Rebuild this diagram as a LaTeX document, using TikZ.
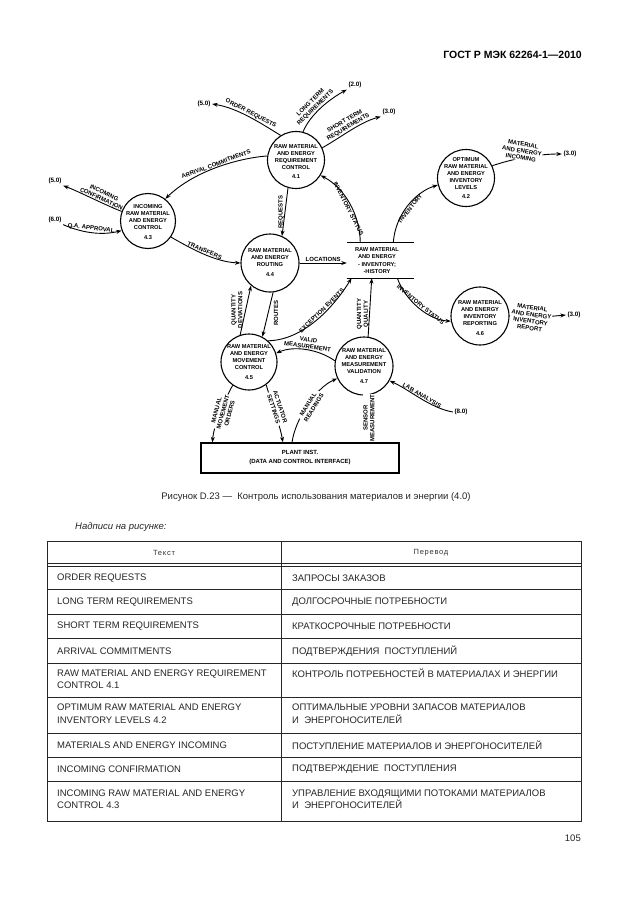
\documentclass[tikz,border=0pt]{standalone}
\usepackage{fontspec}
\setmainfont{Liberation Sans}
\usetikzlibrary{arrows.meta,calc}
\begin{document}
\begin{tikzpicture}[x=1pt,y=-1pt,
  proc/.style={circle,draw,line width=1.1pt,inner sep=0pt,minimum size=#1},
  proc/.default=57pt,
  ptext/.style={align=center,inner sep=0pt,font=\fontsize{5.7}{7}\selectfont\bfseries},
  flow/.style={line width=0.9pt,-{Stealth[length=5.5pt,width=4pt]}},
  lbl/.style={font=\fontsize{6}{6.8}\selectfont\bfseries,align=center,inner sep=0.8pt},
  ext/.style={font=\fontsize{6.3}{7}\selectfont\bfseries,inner sep=1.5pt},
  ttxt/.style={font=\fontsize{9.5}{12.5}\selectfont,anchor=west,align=left,inner sep=0pt,text=black!85},
  tline/.style={line width=0.6pt,black!85}]
\fill[white] (0,0) rectangle (630,913);
\useasboundingbox (0,0) rectangle (630,913);

% header
\node[anchor=east,font=\fontsize{10.5}{12}\selectfont\bfseries,inner sep=0pt] (hdr) at (582,55) {ГОСТ Р МЭК 62264-1—2010};

% processes
\node[proc=57pt] (n41) at (296,160) {};
\node[ptext] (t41) at (296,161.5) {RAW MATERIAL\\AND ENERGY\\REQUIREMENT\\CONTROL\\[2.5pt]4.1};
\node[proc=55pt] (n43) at (148,221) {};
\node[ptext] (t43) at (148,222) {INCOMING\\RAW MATERIAL\\AND ENERGY\\CONTROL\\[2.5pt]4.3};
\node[proc=58pt] (n44) at (270,263) {};
\node[ptext] (t44) at (270,263) {RAW MATERIAL\\AND ENERGY\\ROUTING\\[3pt]4.4};
\node[proc=57pt] (n42) at (466,178) {};
\node[ptext] (t42) at (466,178.5) {OPTIMUM\\RAW MATERIAL\\AND ENERGY\\INVENTORY\\LEVELS\\[2pt]4.2};
\node[proc=58pt] (n46) at (480,316) {};
\node[ptext] (t46) at (480,318) {RAW MATERIAL\\AND ENERGY\\INVENTORY\\REPORTING\\[3pt]4.6};
\node[proc=56pt] (n45) at (249,362) {};
\node[ptext] (t45) at (249,362) {RAW MATERIAL\\AND ENERGY\\MOVEMENT\\CONTROL\\[3pt]4.5};
\node[proc=58pt] (n47) at (364,366) {};
\node[ptext] (t47) at (364,366) {RAW MATERIAL\\AND ENERGY\\MEASUREMENT\\VALIDATION\\[3pt]4.7};

% data store
\node[minimum width=67pt,minimum height=35pt,inner sep=0pt] (st) at (380.5,260.5) {};
\draw[line width=1.1pt] (st.north west) -- (st.north east) (st.south west) -- (st.south east);
\node[ptext,font=\fontsize{5.7}{7.3}\selectfont\bfseries] (tst) at (377,260.5) {RAW MATERIAL\\AND ENERGY\\- INVENTORY;\\-HISTORY};

% plant interface
\node[draw,line width=1.2pt,minimum width=198pt,minimum height=30pt,inner sep=0pt,align=center,font=\fontsize{6}{9}\selectfont\bfseries] (pl) at (300,458) {PLANT INST.\\(DATA AND CONTROL INTERFACE)};

% external references
\node[ext] (r50a) at (204,104) {(5.0)};
\node[ext] (r20) at (355,85) {(2.0)};
\node[ext] (r30a) at (389,112) {(3.0)};
\node[ext] (r50b) at (55,181) {(5.0)};
\node[ext] (r60) at (55,220) {(6.0)};
\node[ext] (r30b) at (570,154) {(3.0)};
\node[ext] (r30c) at (574,315) {(3.0)};
\node[ext] (r80) at (461,412) {(8.0)};

% flows
\draw[flow] (n41.122) .. controls (262,124) and (238,108) .. (r50a.east)
  node[lbl,sloped,above,pos=0.5] (l1) {ORDER REQUESTS};
\draw[flow] (n41.76) .. controls (310,115) and (328,100) .. (r20.south west)
  node[lbl,sloped,above,pos=0.45] (l2) {LONG TERM\\REQUIREMENTS};
\draw[flow] (n41.25) .. controls (340,138) and (360,122) .. (r30a.south west)
  node[lbl,sloped,above,pos=0.5] (l3) {SHORT TERM\\REQUIREMENTS};
\draw[flow] (n41.172) .. controls (240,158) and (195,170) .. (n43.52)
  node[lbl,sloped,above,pos=0.5] (l4) {ARRIVAL COMMITMENTS};
\draw[flow] (n43.160) .. controls (105,205) and (80,192) .. (r50b.south east)
  node[lbl,sloped,above,pos=0.38] (l5) {INCOMING\\CONFIRMATION};
\draw[flow] (r60.south east) .. controls (80,232) and (100,236) .. (n43.200)
  node[lbl,sloped,above,pos=0.5] (l6) {Q.A. APPROVAL};
\draw[flow] (n43.-35) .. controls (190,248) and (215,262) .. (n44.west)
  node[lbl,sloped,above,pos=0.5] (l7) {TRANSFERS};
\draw[flow] (n41.254) -- (n44.66);
\node[lbl,rotate=90] (l8) at (281,212) {REQUESTS};
\draw[flow] (n44.east) -- (n44.east -| st.west)
  node[lbl,above,midway] (l9) {LOCATIONS};
\draw[flow] ($(st.north west)!0.2!(st.north east)$) .. controls (360,215) and (345,188) .. (n41.-32)
  node[lbl,sloped,below,pos=0.45] (l10) {INVENTORY STATUS};
\draw[flow] ($(st.north west)!0.69!(st.north east)$) .. controls (395,215) and (415,192) .. (n42.194)
  node[lbl,sloped,below,pos=0.5] (l11) {INVENTORY};
\draw[flow] (n42.25) .. controls (515,158) and (540,154) .. (r30b.west);
\node[lbl,rotate=-10,fill=white] (l12) at (522,151) {MATERIAL\\AND ENERGY\\INCOMING};
\draw[flow] ($(st.south west)!0.75!(st.south east)$) .. controls (405,300) and (428,320) .. (n46.190)
  node[lbl,sloped,above,pos=0.5] (l13) {INVENTORY STATUS};
\draw[flow] (n46.east) .. controls (525,318) and (545,317) .. (r30c.west);
\node[lbl,rotate=-8,fill=white] (l14) at (531,318) {MATERIAL\\AND ENERGY\\INVENTORY\\REPORT};
\draw[flow] (n47.82) -- ($(st.south west)!0.37!(st.south east)$);
\node[lbl,rotate=90] (l15) at (363,314) {QUANTITY\\QUALITY};
\draw[flow] (n45.48) .. controls (305,340) and (335,305) .. ($(st.south west)!0.07!(st.south east)$)
  node[lbl,sloped,above,pos=0.58] (l16) {EXCEPTION EVENTS};
\draw[flow] (n45.108) -- (n44.230);
\node[lbl,rotate=90] (l17a) at (237,310) {QUANTITY\\DEVIATIONS};
\draw[flow] (n44.-84) -- (n45.62);
\node[lbl,rotate=90] (l17b) at (276,313) {ROUTES};
\draw[flow] (n47.170) .. controls (320,350) and (295,345) .. (n45.18)
  node[lbl,sloped,above,pos=0.5] (l18) {VALID\\MEASUREMENT};
\draw[flow] (n45.235) .. controls (222,405) and (214,425) .. ($(pl.north west)!0.06!(pl.north east)$);
\node[lbl,rotate=75,fill=white] (l19a) at (223,412) {MANUAL\\MOVEMENT\\ORDERS};
\draw[flow] (n45.-53) .. controls (272,405) and (280,425) .. ($(pl.north west)!0.414!(pl.north east)$);
\node[lbl,rotate=-72,fill=white] (l19b) at (277,408) {ACTUATOR\\SETTINGS};
\draw[flow] ($(pl.north west)!0.46!(pl.north east)$) .. controls (295,420) and (315,388) .. (n47.205);
\node[lbl,rotate=58,fill=white] (l20) at (311,406) {MANUAL\\READINGS};
\draw[flow] ($(pl.north west)!0.838!(pl.north east)$) -- (n47.-78);
\node[lbl,rotate=90,fill=white] (l21) at (369,418) {SENSOR\\MEASUREMENT};
\draw[flow] (r80.west) .. controls (430,408) and (410,390) .. (n47.-30)
  node[lbl,sloped,above,pos=0.5] (l22) {LAB ANALYSIS};

% caption
\node[font=\fontsize{9.5}{11}\selectfont,inner sep=0pt,text=black!85] (cap) at (316,497) {Рисунок D.23 —\ \ Контроль использования материалов и энергии (4.0)};
\node[font=\fontsize{9.5}{11}\selectfont\itshape,anchor=west,inner sep=0pt,text=black!85] (sub) at (75,527) {Надписи на рисунке:};

% table
\draw[line width=0.9pt,black!85] (47,541) rectangle (581,821.5);
\draw[tline] (281.5,541) -- (281.5,821.5);
\draw[tline] (47,563.5) -- (581,563.5);
\draw[tline] (47,566) -- (581,566);
\foreach \yy in {589.5,614,638.5,663,697,733,757,781.5}
  \draw[tline] (47,\yy) -- (581,\yy);
\node[font=\fontsize{7.5}{9}\selectfont\addfontfeature{LetterSpace=10},inner sep=0pt,text=black!80] (h1) at (164,552.5) {Текст};
\node[font=\fontsize{7.5}{9}\selectfont\addfontfeature{LetterSpace=10},inner sep=0pt,text=black!80] (h2) at (431,552.5) {Перевод};

\node[ttxt] (a1) at (57,577.75) {ORDER REQUESTS};
\node[ttxt] (b1) at (292,577.75) {ЗАПРОСЫ ЗАКАЗОВ};
\node[ttxt] (a2) at (57,601.75) {LONG TERM REQUIREMENTS};
\node[ttxt] (b2) at (292,601.75) {ДОЛГОСРОЧНЫЕ ПОТРЕБНОСТИ};
\node[ttxt] (a3) at (57,626.25) {SHORT TERM REQUIREMENTS};
\node[ttxt] (b3) at (292,626.25) {КРАТКОСРОЧНЫЕ ПОТРЕБНОСТИ};
\node[ttxt] (a4) at (57,650.75) {ARRIVAL COMMITMENTS};
\node[ttxt] (b4) at (292,650.75) {ПОДТВЕРЖДЕНИЯ\ \ ПОСТУПЛЕНИЙ};
\node[ttxt] (a5) at (57,679.25) {RAW MATERIAL AND ENERGY REQUIREMENT\\CONTROL 4.1};
\node[ttxt] (b5) at (292,673) {КОНТРОЛЬ ПОТРЕБНОСТЕЙ В МАТЕРИАЛАХ И ЭНЕРГИИ};
\node[ttxt] (a6) at (57,713.75) {OPTIMUM RAW MATERIAL AND ENERGY\\INVENTORY LEVELS 4.2};
\node[ttxt] (b6) at (292,713.75) {ОПТИМАЛЬНЫЕ УРОВНИ ЗАПАСОВ МАТЕРИАЛОВ\\И\ \ ЭНЕРГОНОСИТЕЛЕЙ};
\node[ttxt] (a7) at (57,745) {MATERIALS AND ENERGY INCOMING};
\node[ttxt] (b7) at (292,745) {ПОСТУПЛЕНИЕ МАТЕРИАЛОВ И ЭНЕРГОНОСИТЕЛЕЙ};
\node[ttxt] (a8) at (57,769.25) {INCOMING CONFIRMATION};
\node[ttxt] (b8) at (292,769.25) {ПОДТВЕРЖДЕНИЕ\ \ ПОСТУПЛЕНИЯ};
\node[ttxt] (a9) at (57,799) {INCOMING RAW MATERIAL AND ENERGY\\CONTROL 4.3};
\node[ttxt] (b9) at (292,799) {УПРАВЛЕНИЕ ВХОДЯЩИМИ ПОТОКАМИ МАТЕРИАЛОВ\\И\ \ ЭНЕРГОНОСИТЕЛЕЙ};

% page number
\node[font=\fontsize{9.5}{11}\selectfont,anchor=east,inner sep=0pt,text=black!85] (pg) at (581,838) {105};
\end{tikzpicture}
\end{document}
